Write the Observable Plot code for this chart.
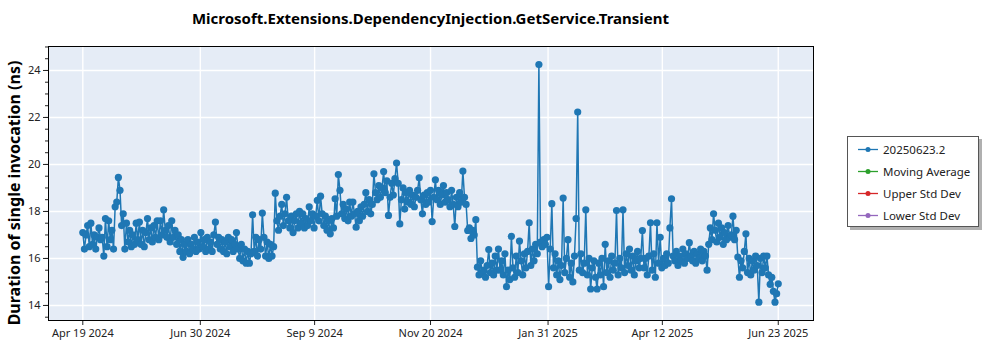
<!DOCTYPE html>
<html><head><meta charset="utf-8">
<script src="https://cdn.jsdelivr.net/npm/d3@7"></script>
<script src="https://cdn.jsdelivr.net/npm/@observablehq/plot@0.6"></script>
<style>
body{margin:0;background:#fff;font-family:"Noto Sans",sans-serif;}
#wrap{position:relative;width:1000px;height:350px;}
#title{position:absolute;left:48px;width:765px;top:7px;text-align:center;font-weight:bold;font-size:15px;color:#000;line-height:22px;}
#ylabel{position:absolute;left:14px;top:193px;transform:translate(-50%,-50%) rotate(-90deg);white-space:nowrap;font-weight:bold;font-size:16px;color:#000;}
#legend{position:absolute;left:847px;top:136px;width:130px;height:89px;border:1px solid #555;background:#fff;box-shadow:3px 3px 0 #b0b0b0;}
#chart{position:absolute;left:0;top:0;}
</style></head>
<body>
<div id="wrap">
  <div id="chart"></div>
  <div id="title"></div>
  <div id="ylabel"></div>
  <div id="legend"></div>
</div>
<script>
const chartTitle = "Microsoft.Extensions.DependencyInjection.GetService.Transient";
const yLabel = "Duration of single invocation (ns)";
const legendLabels = ["20250623.2", "Moving Average", "Upper Std Dev", "Lower Std Dev"];
const legendColors = ["#1f77b4", "#2ca02c", "#d62728", "#9467bd"];

// tick values (labels as shown)
const xTicks = ["2024-04-19T00:00Z","2024-06-30T16:00Z","2024-09-09T08:00Z","2024-11-20T00:00Z","2025-01-31T16:00Z","2025-04-12T08:00Z","2025-06-23T00:00Z"];
const yTicks = [14, 16, 18, 20, 22, 24];

// daily values, one array per month (first day given with each)
const apr2024 = [17.1,16.4,17.0,17.4,16.5,17.5,16.6,17.0,16.4,16.9,17.3,16.8];
const may2024 = [16.9,16.1,17.7,16.5,17.6,16.8,17.2,16.4,18.2,18.4,19.45,18.9,17.4,17.9,16.4,17.5,16.7,17.2,16.5,17.0,16.6,17.5,16.8,17.55,16.6,17.2,16.5,17.1,17.7,16.8,17.3];
const jun2024 = [16.7,17.4,16.9,17.6,16.8,17.6,17.0,18.07,17.2,16.9,17.4,16.7,17.6,16.9,17.2,16.6,17.0,16.3,16.8,16.05,16.6,16.3,16.8,16.2,16.6,16.4,16.9,16.3,16.7,16.4];
const jul2024 = [17.1,16.5,16.8,16.3,16.9,16.4,16.7,16.3,17.0,17.55,16.6,16.9,16.4,16.8,16.3,16.7,16.2,16.9,16.5,16.8,16.3,16.6,17.1,16.4,16.0,16.6,15.9,16.4,15.8,16.3,15.8];
const aug2024 = [16.2,17.86,16.3,16.9,16.1,16.8,16.4,17.93,16.9,16.1,16.7,16.0,16.6,16.1,16.5,18.78,17.6,17.2,17.8,18.3,17.4,17.9,18.6,17.6,17.3,17.8,17.1,17.6,17.9,17.3,18.0];
const sep2024 = [17.5,17.9,17.3,17.7,17.4,18.2,17.6,17.9,17.3,17.8,18.47,17.6,18.65,17.9,17.4,17.8,17.2,17.6,17.05,17.7,17.3,18.54,17.8,19.57,18.9,17.9,18.3,17.7,18.1,17.6];
const oct2024 = [18.4,17.8,18.4,17.9,17.33,18.0,17.6,18.2,17.8,18.3,18.8,18.0,18.5,17.9,18.3,19.6,18.8,18.5,19.1,18.6,19.0,19.7,18.8,19.3,17.83,18.6,19.2,18.7,19.4,20.06,19.2];
const nov2024 = [17.47,18.5,19.0,18.1,18.8,18.4,18.9,18.3,18.7,18.2,18.6,18.9,19.43,18.5,17.9,18.7,18.3,18.8,18.4,18.9,17.57,18.6,19.35,18.5,18.9,18.3,18.7,19.1,18.4,18.8];
const dec2024 = [18.5,18.2,18.9,18.3,17.36,18.6,18.2,18.8,18.4,19.72,18.6,18.3,17.19,17.3,16.85,17.2,17.0,17.65,15.63,15.3,15.9,15.4,15.5,15.2,15.7,16.38,15.4,15.8,15.3,16.1,15.5];
const jan2025 = [16.4,15.5,15.9,15.3,16.2,14.8,15.5,15.1,16.94,15.6,15.2,16.1,15.4,16.74,15.9,15.3,16.2,15.6,16.3,17.52,15.7,16.4,15.9,16.6,16.2,24.25,16.7,16.5,16.8,16.6,16.9];
const feb2025 = [14.8,16.4,18.33,15.6,16.2,15.3,15.9,15.1,15.7,18.57,15.4,16.0,16.8,15.2,15.8,15.0,16.1,17.7,22.23,15.5,16.2,15.4,15.8,18.07,15.3,16.0,14.7,15.6];
const mar2025 = [15.9,15.2,14.7,15.8,15.3,16.0,14.8,16.6,15.4,15.9,15.2,16.1,15.5,15.8,18.04,15.3,16.0,15.6,18.07,15.4,16.2,15.7,16.4,15.5,16.1,15.3,15.9,16.3,15.6,16.0,17.19];
const apr2025 = [15.6,16.0,15.3,16.1,17.52,15.5,16.2,15.2,17.52,15.8,16.9,15.6,16.0,15.7,16.2,15.8,17.3,18.54,16.1,15.9,16.3,15.7,16.1,15.9,16.4,15.8,16.2,16.0,16.67,16.1];
const may2025 = [15.9,16.3,15.8,16.2,16.0,16.4,15.9,16.3,16.1,15.5,16.6,17.3,16.8,17.9,17.2,16.7,17.5,16.9,17.3,16.6,17.1,16.8,17.4,16.9,17.0,17.8,16.8,17.2,16.06,15.2,15.9];
const jun2025 = [15.6,16.3,17.05,15.4,16.0,15.3,15.9,15.5,16.1,15.7,14.14,16.0,15.4,16.1,15.6,16.1,15.3,14.9,15.2,14.6,14.14,14.5,14.92];

const monthStarts = ["2024-04-19","2024-05-01","2024-06-01","2024-07-01","2024-08-01","2024-09-01","2024-10-01","2024-11-01","2024-12-01","2025-01-01","2025-02-01","2025-03-01","2025-04-01","2025-05-01","2025-06-01"];
const monthValues = [apr2024,may2024,jun2024,jul2024,aug2024,sep2024,oct2024,nov2024,dec2024,jan2025,feb2025,mar2025,apr2025,may2025,jun2025];

const data = [];
monthStarts.forEach((s, m) => {
  const start = new Date(s + "T00:00Z");
  monthValues[m].forEach((v, i) => data.push({date: d3.utcDay.offset(start, i), value: v}));
});

const fmt = d3.utcFormat("%b %-d %Y");
const xt = xTicks.map(d => new Date(d));
const yMinor = d3.range(13.5, 25.01, 0.5);

const chart = Plot.plot({
  width: 1000, height: 350,
  marginLeft: 48, marginRight: 187, marginTop: 46, marginBottom: 30,
  style: {fontFamily: "Noto Sans", fontSize: "11px", color: "#222", background: "transparent"},
  x: {type: "utc", domain: [new Date("2024-03-28T19:00Z"), new Date("2025-07-14T19:00Z")]},
  y: {domain: [13.36, 25.02]},
  marks: [
    Plot.frame({fill: "#e5ecf6", stroke: null}),
    Plot.gridX(xt, {stroke: "#fff", strokeOpacity: 1, strokeWidth: 1.4}),
    Plot.gridY(yTicks, {stroke: "#fff", strokeOpacity: 1, strokeWidth: 1.4}),
    Plot.line(data, {x: "date", y: "value", stroke: "#1f77b4", strokeWidth: 1.5}),
    Plot.dot(data, {x: "date", y: "value", fill: "#1f77b4", r: 3.6}),
    Plot.axisX(xt, {tickFormat: fmt, tickSize: 5, tickPadding: 4, label: null}),
    Plot.axisY(yTicks, {tickSize: 5, tickPadding: 3, label: null}),
    Plot.axisY(yMinor, {tickSize: 3, tickFormat: () => "", label: null}),
    Plot.frame({stroke: "#000", strokeWidth: 1})
  ]
});
document.getElementById("chart").appendChild(chart);
document.getElementById("title").textContent = chartTitle;
document.getElementById("ylabel").textContent = yLabel;

// legend
const ns = "http://www.w3.org/2000/svg";
const lsvg = document.createElementNS(ns, "svg");
lsvg.setAttribute("width", 130); lsvg.setAttribute("height", 89);
legendLabels.forEach((lab, i) => {
  const y = 12.5 + i * 22;
  const g = document.createElementNS(ns, "g");
  const ln = document.createElementNS(ns, "line");
  ln.setAttribute("x1", 10); ln.setAttribute("x2", 30); ln.setAttribute("y1", y); ln.setAttribute("y2", y);
  ln.setAttribute("stroke", legendColors[i]); ln.setAttribute("stroke-width", 1.3);
  const c = document.createElementNS(ns, "circle");
  c.setAttribute("cx", 20); c.setAttribute("cy", y); c.setAttribute("r", 2.5); c.setAttribute("fill", legendColors[i]);
  const t = document.createElementNS(ns, "text");
  t.setAttribute("x", 35); t.setAttribute("y", y); t.setAttribute("dy", "0.35em");
  t.setAttribute("font-family", "Noto Sans"); t.setAttribute("font-size", "11.5px"); t.setAttribute("fill", "#222");
  t.textContent = lab;
  g.append(ln, c, t); lsvg.appendChild(g);
});
document.getElementById("legend").appendChild(lsvg);
</script>
</body></html>
